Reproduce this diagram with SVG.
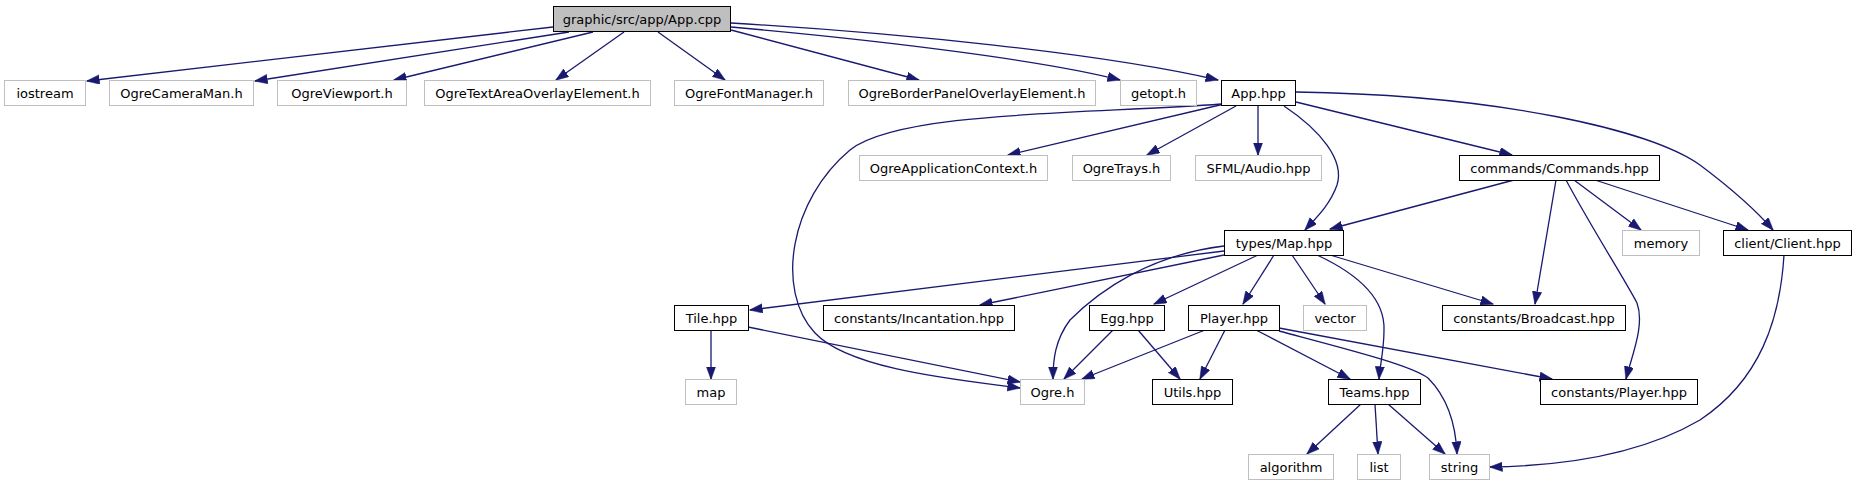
<svg xmlns="http://www.w3.org/2000/svg" width="1856" height="485" viewBox="0 0 1856 485">
<style>
.doc{fill:#fff;stroke:#000;stroke-width:1}
.ext{fill:#fff;stroke:#bfbfbf;stroke-width:1}
.root{fill:#bfbfbf;stroke:#000;stroke-width:1}
text{font-family:"DejaVu Sans","Liberation Sans",sans-serif;font-size:13px;text-anchor:middle;fill:#000}
.e path{fill:none;stroke:#191970;stroke-width:1.3;marker-end:url(#ah)}
</style>
<defs>
<marker id="ah" markerUnits="userSpaceOnUse" markerWidth="14" markerHeight="10" refX="12.5" refY="4.7" orient="auto">
<path d="M0,0 L13,4.7 L0,9.4 z" fill="#191970" stroke="#191970" stroke-width="0.5"/>
</marker>
</defs>
<rect width="1856" height="485" fill="#fff"/>
<g id="connectors" class="e">
<path d="M553,27 L87,81"/>
<path d="M569,32 L255,81"/>
<path d="M593,32 L394,80"/>
<path d="M624,32 L556,80"/>
<path d="M658,32 L725,80"/>
<path d="M731,30 L919,80"/>
<path d="M731,27 C900,42 1050,62 1120,80"/>
<path d="M731,23 C900,33 1100,53 1218,80"/>
<path d="M1221,104 C1100,114 900,110 850,150 C790,200 775,290 815,333 C850,370 960,380 1020,388"/>
<path d="M1224,104 L1008,155"/>
<path d="M1236,106 L1147,155"/>
<path d="M1258,106 L1258,155"/>
<path d="M1284,106 C1320,130 1345,160 1337,185 C1330,205 1316,218 1305,230"/>
<path d="M1296,102 L1512,155"/>
<path d="M1296,92 C1500,95 1650,130 1700,165 C1740,195 1760,215 1773,230"/>
<path d="M1514,180 L1330,229"/>
<path d="M1556,180 L1535,304"/>
<path d="M1566,180 C1590,225 1625,280 1637,303 C1645,325 1632,355 1626,379"/>
<path d="M1574,180 L1641,230"/>
<path d="M1595,180 L1748,230"/>
<path d="M1784,255 C1780,320 1760,380 1700,420 C1640,455 1560,466 1490,467"/>
<path d="M1224,251 L750,310"/>
<path d="M1224,255 L980,305"/>
<path d="M1224,246 C1150,255 1100,290 1070,320 C1055,340 1053,360 1053,379"/>
<path d="M1258,255 L1154,304"/>
<path d="M1274,255 L1243,304"/>
<path d="M1292,255 L1325,304"/>
<path d="M1317,255 C1360,275 1385,300 1384,330 C1384,350 1380,365 1379,379"/>
<path d="M1330,255 L1493,304"/>
<path d="M711,330 L711,379"/>
<path d="M748,327 L1020,382"/>
<path d="M1113,330 L1064,379"/>
<path d="M1138,330 L1180,379"/>
<path d="M1205,330 L1082,379"/>
<path d="M1225,330 L1200,379"/>
<path d="M1256,330 L1350,379"/>
<path d="M1279,331 C1350,350 1410,365 1428,378 C1450,400 1456,430 1457,454"/>
<path d="M1279,328 L1552,379"/>
<path d="M1361,404 L1307,454"/>
<path d="M1375,404 L1378,454"/>
<path d="M1388,404 L1445,454"/>
</g>
<g id="n_appcpp"><rect class="root" x="553.5" y="6.5" width="177" height="25"/><text x="642" y="23.5">graphic/src/app/App.cpp</text></g>
<g id="n_iostream"><rect class="ext" x="4.5" y="80.5" width="81" height="25"/><text x="45" y="97.5">iostream</text></g>
<g id="n_camman"><rect class="ext" x="109.5" y="80.5" width="144" height="25"/><text x="181.5" y="97.5">OgreCameraMan.h</text></g>
<g id="n_viewport"><rect class="ext" x="277.5" y="80.5" width="129" height="25"/><text x="342" y="97.5">OgreViewport.h</text></g>
<g id="n_textarea"><rect class="ext" x="424.5" y="80.5" width="226" height="25"/><text x="537.5" y="97.5">OgreTextAreaOverlayElement.h</text></g>
<g id="n_fontmgr"><rect class="ext" x="674.5" y="80.5" width="149" height="25"/><text x="749" y="97.5">OgreFontManager.h</text></g>
<g id="n_border"><rect class="ext" x="848.5" y="80.5" width="247" height="25"/><text x="972" y="97.5">OgreBorderPanelOverlayElement.h</text></g>
<g id="n_getopt"><rect class="ext" x="1120.5" y="80.5" width="76" height="25"/><text x="1158.5" y="97.5">getopt.h</text></g>
<g id="n_apphpp"><rect class="doc" x="1221.5" y="80.5" width="74" height="25"/><text x="1258.5" y="97.5">App.hpp</text></g>
<g id="n_appctx"><rect class="ext" x="859.5" y="155.5" width="188" height="25"/><text x="953.5" y="172.5">OgreApplicationContext.h</text></g>
<g id="n_trays"><rect class="ext" x="1072.5" y="155.5" width="98" height="25"/><text x="1121.5" y="172.5">OgreTrays.h</text></g>
<g id="n_sfml"><rect class="ext" x="1195.5" y="155.5" width="126" height="25"/><text x="1258.5" y="172.5">SFML/Audio.hpp</text></g>
<g id="n_commands"><rect class="doc" x="1459.5" y="155.5" width="200" height="25"/><text x="1559.5" y="172.5">commands/Commands.hpp</text></g>
<g id="n_map"><rect class="doc" x="1224.5" y="230.5" width="119" height="25"/><text x="1284" y="247.5">types/Map.hpp</text></g>
<g id="n_memory"><rect class="ext" x="1622.5" y="230.5" width="77" height="25"/><text x="1661" y="247.5">memory</text></g>
<g id="n_client"><rect class="doc" x="1723.5" y="230.5" width="128" height="25"/><text x="1787.5" y="247.5">client/Client.hpp</text></g>
<g id="n_tile"><rect class="doc" x="674.5" y="305.5" width="74" height="25"/><text x="711.5" y="322.5">Tile.hpp</text></g>
<g id="n_incant"><rect class="doc" x="823.5" y="305.5" width="191" height="25"/><text x="919" y="322.5">constants/Incantation.hpp</text></g>
<g id="n_egg"><rect class="doc" x="1089.5" y="305.5" width="75" height="25"/><text x="1127" y="322.5">Egg.hpp</text></g>
<g id="n_player"><rect class="doc" x="1188.5" y="305.5" width="91" height="25"/><text x="1234" y="322.5">Player.hpp</text></g>
<g id="n_vector"><rect class="ext" x="1303.5" y="305.5" width="63" height="25"/><text x="1335" y="322.5">vector</text></g>
<g id="n_broadcast"><rect class="doc" x="1442.5" y="305.5" width="183" height="25"/><text x="1534" y="322.5">constants/Broadcast.hpp</text></g>
<g id="n_mapstd"><rect class="ext" x="685.5" y="379.5" width="51" height="25"/><text x="711" y="396.5">map</text></g>
<g id="n_ogre"><rect class="ext" x="1020.5" y="379.5" width="64" height="25"/><text x="1052.5" y="396.5">Ogre.h</text></g>
<g id="n_utils"><rect class="doc" x="1152.5" y="379.5" width="80" height="25"/><text x="1192.5" y="396.5">Utils.hpp</text></g>
<g id="n_teams"><rect class="doc" x="1328.5" y="379.5" width="92" height="25"/><text x="1374.5" y="396.5">Teams.hpp</text></g>
<g id="n_cplayer"><rect class="doc" x="1540.5" y="379.5" width="157" height="25"/><text x="1619" y="396.5">constants/Player.hpp</text></g>
<g id="n_algorithm"><rect class="ext" x="1248.5" y="454.5" width="85" height="25"/><text x="1291" y="471.5">algorithm</text></g>
<g id="n_list"><rect class="ext" x="1357.5" y="454.5" width="43" height="25"/><text x="1379" y="471.5">list</text></g>
<g id="n_string"><rect class="ext" x="1429.5" y="454.5" width="60" height="25"/><text x="1459.5" y="471.5">string</text></g>
</svg>
